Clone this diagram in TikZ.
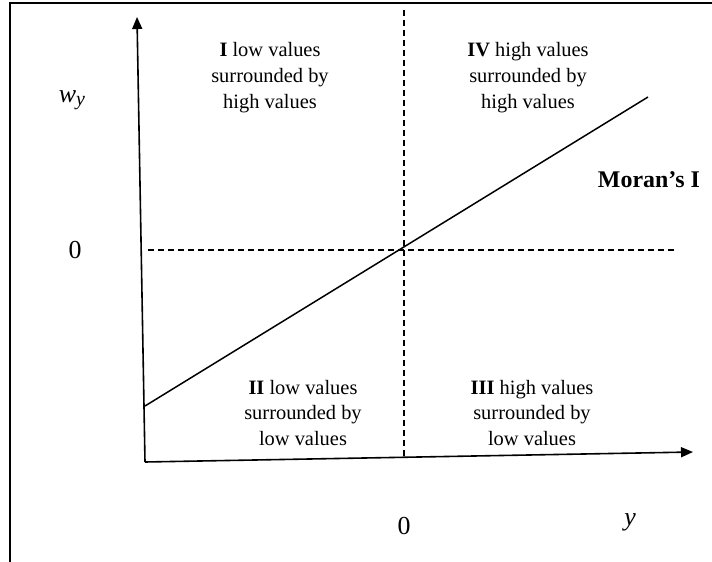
\documentclass[tikz,border=0pt]{standalone}
\usepackage{fontspec}
\setmainfont{Liberation Serif}
\usetikzlibrary{arrows.meta}

\begin{document}
\begin{tikzpicture}[
  x=1bp, y=-1bp,
  quad/.style={align=center, font=\fontsize{20.5}{26}\selectfont, inner sep=2pt},
  axis/.style={line width=1.6bp, -{Triangle[length=12bp,width=10bp]}},
  guide/.style={line width=1.1bp, dash pattern=on 6bp off 4bp},
  tick/.style={font=\fontsize{26}{28}\selectfont}
]
  \useasboundingbox (0,0) rectangle (712,562);
  \draw[line width=2.2bp] (10,562) -- (10,3) -- (712,3);
  \coordinate (o) at (145,462);
  \coordinate (ytip) at (137,17);
  \coordinate (xtip) at (693,452);
  \coordinate (hl) at (148,250);
  \coordinate (hr) at (678,250);
  \coordinate (vt) at (404,10);
  \coordinate (vb) at (404,456);
  \coordinate (ms) at (145,406);
  \coordinate (me) at (648,97);
  \draw[guide] (hl) -- (hr);
  \draw[guide] (vt) -- (vb);
  \draw[axis] (o) -- (ytip);
  \draw[axis] (o) -- (xtip);
  \draw[line width=1.5bp] (ms) -- (me);
  \node[quad] (q1) at (270,78) {\textbf{I} low values\\surrounded by\\high values};
  \node[quad] (q4) at (528,78) {\textbf{IV} high values\\surrounded by\\high values};
  \node[quad] (q2) at (303,413) {\textbf{II} low values\\surrounded by\\low values};
  \node[quad] (q3) at (532,413) {\textbf{III} high values\\surrounded by\\low values};
  \node[font=\fontsize{24}{26}\selectfont\bfseries] (moran) at (649,180) {Moran's I};
  \node[tick] (wy) at (72,100) {\itshape w\raisebox{-0.3ex}{\fontsize{20}{20}\selectfont y}};
  \node[tick] (zy) at (75,250) {0};
  \node[tick] (zx) at (404,526) {0};
  \node[tick] (ylab) at (630,522) {\itshape y};
\end{tikzpicture}
\end{document}
